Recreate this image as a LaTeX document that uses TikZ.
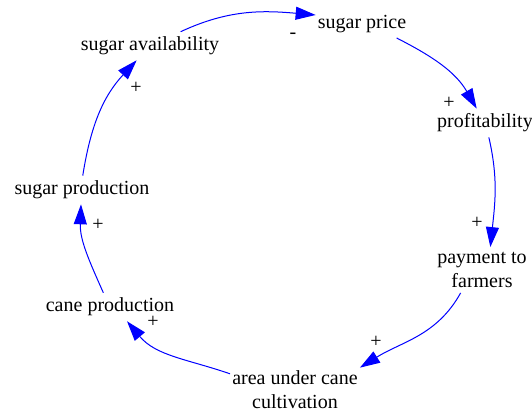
\documentclass[tikz,border=0pt]{standalone}
\usepackage{fontspec}
\setmainfont{LiberationSerif}[Extension=.ttf,UprightFont=*-Regular]
\usetikzlibrary{arrows.meta}

\begin{document}
\begin{tikzpicture}[x=1pt,y=1pt,
        var/.style={inner xsep=2pt,inner ysep=5pt,align=center,font=\fontsize{20}{24}\selectfont},
        link/.style={blue,line width=1pt,-{Triangle[length=20pt,width=13pt]}},
        sign/.style={inner sep=0pt,font=\fontsize{20}{24}\selectfont}]
        \useasboundingbox (0,0) rectangle (532,-409);
        % the loop variables
        \node[var] (price) at (362,-24) {sugar price};
        \node[var] (profit) at (485,-123) {profitability};
        \node[var] (pay) at (482,-270) {payment to\\farmers};
        \node[var] (area) at (295,-390) {area under cane\\cultivation};
        \node[var] (cane) at (110,-307) {cane production};
        \node[var] (prod) at (82,-190) {sugar production};
        \node[var] (avail) at (150,-46) {sugar availability};
        % links
        \draw[link] (avail.25) to[out=25,in=175] (price.169);
        \draw[link] (price.-22) to[out=-27,in=120] (profit.120);
        \draw[link] (profit.-75) to[out=-77,in=84] (pay.70);
        \draw[link] (pay.-133) to[out=-119,in=32] (area.19);
        \draw[link] (area.166) to[out=161,in=-50] (cane.-40);
        \draw[link] (cane.115) to[out=114,in=-92] (prod.-94);
        \draw[link] (prod.87) to[out=81,in=-133] (avail.-133);
        % polarities
        \node[sign] (s1) at (293,-36) {-};
        \node[sign] (s2) at (449,-103) {+};
        \node[sign] (s3) at (477,-223) {+};
        \node[sign] (s4) at (376,-342) {+};
        \node[sign] (s5) at (153,-322) {+};
        \node[sign] (s6) at (98,-225) {+};
        \node[sign] (s7) at (136,-88) {+};
\end{tikzpicture}
\end{document}
